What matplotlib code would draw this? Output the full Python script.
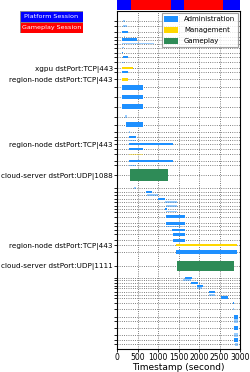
import matplotlib
matplotlib.use("Agg")
import matplotlib.pyplot as plt
from matplotlib.patches import Patch

# session band along the top (seconds)
SESSION_START = [0, 340, 1320, 1640, 2590]
SESSION_END = [340, 1320, 1640, 2590, 3000]
SESSION_KIND = ["platform", "gameplay", "platform", "gameplay", "platform"]

# flows: row position, start (s), end (s), category, thickness, faint
ROW_POS = [10, 15.5, 21.5, 26, 29, 33, 37, 42, 47, 52,
           58, 62, 69, 77, 87, 97, 107, 115, 122, 127,
           131, 135, 140, 145, 152, 156, 166, 179, 183, 186,
           190, 193, 197, 200, 203, 208, 215, 218, 222, 226,
           232, 237, 244, 258, 270, 272, 275, 278, 280, 284,
           287, 290, 295, 302, 310, 314, 321, 328, 333, 337]
ROW_START = [140, 146, 122, 160, 122, 122, 130, 122, 146, 122,
             122, 122, 122, 122, 122, 122, 195, 220, 293, 293,
             293, 293, 293, 293, 293, 293, 317, 415, 708, 732,
             1000, 1171, 1195, 1171, 1195, 1195, 1195, 1195, 1342, 1366,
             1366, 1440, 1440, 1464, 1659, 1600, 1806, 1952, 1952, 2245,
             2245, 2538, 2830, 2830, 2855, 2855, 2855, 2855, 2855, 2880]
ROW_END = [200, 244, 268, 190, 488, 900, 170, 150, 268, 170,
           390, 268, 268, 634, 634, 634, 244, 634, 317, 464,
           464, 1366, 634, 634, 1366, 464, 1244, 464, 854, 1000,
           1171, 1464, 1464, 1220, 1464, 1659, 1659, 1560, 1659, 1659,
           1659, 2928, 2928, 2855, 1830, 1800, 1976, 2098, 2074, 2391,
           2391, 2708, 2855, 2855, 2952, 2952, 2952, 2952, 2952, 2952]
ROW_CAT = ["admin"] * 10 + ["mgmt", "admin", "mgmt"] + ["admin"] * 10 + ["mgmt", "admin", "admin", "game"] \
    + ["admin"] * 14 + ["mgmt", "admin", "game"] + ["admin"] * 17
ROW_THICK = [1.5, 2, 2, 1, 3, 1, 1, 1.5, 2, 1,
             2, 2, 3, 5, 5, 5, 3, 5, 2, 2,
             1, 2, 2, 1, 2, 1, 12, 2, 2, 2,
             2, 2, 2, 2, 1, 3, 3, 1, 2, 3,
             3, 2, 4, 10, 2, 2, 2, 2, 2, 2,
             2, 3, 2, 2, 4, 4, 4, 4, 4, 3]
ROW_FAINT = [1, 1, 0, 1, 0, 1, 1, 0, 0, 1,
             0, 0, 0, 0, 0, 0, 1, 0, 1, 0,
             1, 0, 0, 1, 0, 1, 0, 1, 0, 1,
             0, 1, 1, 0, 1, 0, 0, 1, 0, 0,
             0, 0, 0, 0, 0, 1, 0, 0, 1, 0,
             1, 0, 0, 1, 0, 1, 0, 1, 0, 1]

LABELS = {
    58: "xgpu dstPort:TCP|443",
    69: "region-node dstPort:TCP|443",
    135: "region-node dstPort:TCP|443",
    166: "cloud-server dstPort:UDP|1088",
    237: "region-node dstPort:TCP|443",
    258: "cloud-server dstPort:UDP|1111",
}

CAT_COLOR = {"admin": "#1e90ff", "mgmt": "#ffd700", "game": "#2e8b57"}
CAT_NAME = {"admin": "Administration", "mgmt": "Management", "game": "Gameplay"}
SESSION_COLOR = {"platform": "#0000ff", "gameplay": "#ff0000"}

fig = plt.figure(figsize=(2.5, 3.72), dpi=100)
ax = fig.add_axes([117 / 250, 23 / 372, 123 / 250, 338 / 372])
band = fig.add_axes([117 / 250, 362 / 372, 123 / 250, 10 / 372], sharex=ax)

for s, e, k in zip(SESSION_START, SESSION_END, SESSION_KIND):
    band.barh(0, e - s, left=s, height=1, color=SESSION_COLOR[k], linewidth=0)
band.set_ylim(-0.5, 0.5)
band.axis("off")

for y, s, e, c, h, f in zip(ROW_POS, ROW_START, ROW_END, ROW_CAT, ROW_THICK, ROW_FAINT):
    ax.barh(y, e - s, left=s, height=h, color=CAT_COLOR[c], alpha=0.45 if f else 1.0,
            linewidth=0, zorder=3)

ax.set_xlim(0, 3000)
ax.set_ylim(342, 0)
ax.set_xticks(range(0, 3001, 500))
ax.set_yticks(ROW_POS, [LABELS.get(y, "") for y in ROW_POS])
ax.tick_params(axis="y", labelsize=5.2, length=2, width=0.6, pad=1)
ax.tick_params(axis="x", labelsize=5.5, length=2, width=0.6, pad=1)
ax.set_xlabel("Timestamp (second)", fontsize=6.5, labelpad=0.5)
ax.grid(True, linestyle=":", color="#555555", linewidth=0.6, zorder=0)
for sp in ax.spines.values():
    sp.set_linewidth(0.8)

handles = [Patch(facecolor=CAT_COLOR[k], label=CAT_NAME[k]) for k in ["admin", "mgmt", "game"]]
leg = ax.legend(handles=handles, loc="upper right", fontsize=5, frameon=True, fancybox=False,
                edgecolor="#888888", borderaxespad=0.3, labelspacing=0.7, handlelength=2.0,
                handleheight=0.9, borderpad=0.4)
leg.get_frame().set_linewidth(0.8)

# session legend box in the top-left corner
sbox = fig.add_axes([20 / 250, 339 / 372, 63 / 250, 22 / 372])
sbox.barh([1, 0], [1, 1], height=1, color=[SESSION_COLOR["platform"], SESSION_COLOR["gameplay"]],
          edgecolor="#888888", linewidth=0.6)
sbox.text(0.5, 1, "Platform Session", color="white", ha="center", va="center", fontsize=4.6)
sbox.text(0.5, 0, "Gameplay Session", color="white", ha="center", va="center", fontsize=4.6)
sbox.set_xlim(0, 1)
sbox.set_ylim(-0.5, 1.5)
sbox.axis("off")

fig.savefig("out.png", dpi=100)
